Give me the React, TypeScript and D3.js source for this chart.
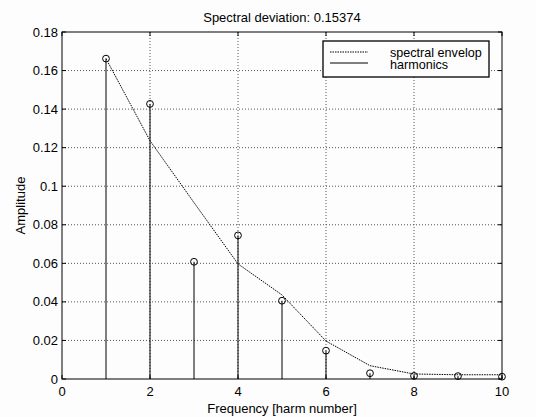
import React from "react";
import * as d3 from "d3";

// Harmonic numbers and measured amplitudes
const harmonics = [1, 2, 3, 4, 5, 6, 7, 8, 9, 10];
const amplitudes = [0.1662, 0.1427, 0.0608, 0.0745, 0.0406, 0.0147, 0.003, 0.0016, 0.0015, 0.0012];
// Spectral envelope sampled at each harmonic
const envelope = [0.1662, 0.1236, 0.0915, 0.0597, 0.0436, 0.0197, 0.0069, 0.0026, 0.0022, 0.0022];

const xTicks = [0, 2, 4, 6, 8, 10];
const yTicks = [0, 0.02, 0.04, 0.06, 0.08, 0.1, 0.12, 0.14, 0.16, 0.18];

const titleText = "Spectral deviation: 0.15374";
const xLabel = "Frequency [harm number]";
const yLabel = "Amplitude";
const legendLabels = ["spectral envelop", "harmonics"];

const W = 536;
const H = 417;
const left = 62;
const right = 502;
const top = 32;
const bottom = 379;

export default function App() {
  const x = d3.scaleLinear().domain([0, 10]).range([left, right]);
  const y = d3.scaleLinear().domain([0, 0.18]).range([bottom, top]);

  const envLine = d3
    .line<number>()
    .x((_, i) => x(harmonics[i]))
    .y((d) => y(d))(envelope) as string;

  const font = "'Liberation Sans', Arial, sans-serif";
  const bg = "#fdfdfd";
  const grid = { stroke: "#555", strokeWidth: 1, strokeDasharray: "1 2" };

  return (
    <svg
      width={W}
      height={H}
      style={{ position: "absolute", left: 0, top: 0, background: bg }}
      fontFamily={font}
    >
      <rect x={0} y={0} width={W} height={H} fill={bg} />
      {/* grid */}
      {xTicks
        .filter((t) => t > 0 && t < 10)
        .map((t) => (
          <line key={"gx" + t} x1={x(t)} x2={x(t)} y1={top} y2={bottom} {...grid} />
        ))}
      {yTicks
        .filter((t) => t > 0 && t < 0.18)
        .map((t) => (
          <line key={"gy" + t} x1={left} x2={right} y1={y(t)} y2={y(t)} {...grid} />
        ))}

      {/* ticks inside the box */}
      {xTicks.map((t) => (
        <g key={"tx" + t}>
          <line x1={x(t)} x2={x(t)} y1={bottom} y2={bottom - 4} stroke="#000" />
          <line x1={x(t)} x2={x(t)} y1={top} y2={top + 4} stroke="#000" />
          <text x={x(t)} y={bottom + 17} fontSize={13} textAnchor="middle" fill="#000">
            {String(t)}
          </text>
        </g>
      ))}
      {yTicks.map((t) => (
        <g key={"ty" + t}>
          <line x1={left} x2={left + 4} y1={y(t)} y2={y(t)} stroke="#000" />
          <line x1={right} x2={right - 4} y1={y(t)} y2={y(t)} stroke="#000" />
          <text x={left - 4} y={y(t) + 4.5} fontSize={13} textAnchor="end" fill="#000">
            {String(t)}
          </text>
        </g>
      ))}

      {/* envelope */}
      <path d={envLine} fill="none" stroke="#000" strokeWidth={1} strokeDasharray="1.5 1" />

      {/* stems */}
      {harmonics.map((h, i) => (
        <g key={"s" + h}>
          <line x1={x(h)} x2={x(h)} y1={y(0)} y2={y(amplitudes[i])} stroke="#000" strokeWidth={1} />
          <circle cx={x(h)} cy={y(amplitudes[i])} r={3.4} fill="none" stroke="#000" strokeWidth={1} />
        </g>
      ))}

      {/* axes box */}
      <rect x={left} y={top} width={right - left} height={bottom - top} fill="none" stroke="#000" strokeWidth={1} />

      {/* legend */}
      <rect x={323} y={41} width={166} height={36} fill={bg} stroke="#000" strokeWidth={1.3} />
      <line x1={330} x2={368} y1={52} y2={52} stroke="#000" strokeDasharray="1.5 1" />
      <line x1={330} x2={368} y1={63} y2={63} stroke="#000" />
      <text x={390} y={57} fontSize={12.6} fill="#000">
        {legendLabels[0]}
      </text>
      <text x={390} y={68.5} fontSize={12.6} fill="#000">
        {legendLabels[1]}
      </text>

      {/* labels */}
      <text x={(left + right) / 2} y={22} fontSize={13} textAnchor="middle" fill="#000">
        {titleText}
      </text>
      <text x={(left + right) / 2} y={413} fontSize={13} textAnchor="middle" fill="#000">
        {xLabel}
      </text>
      <text
        transform={`translate(24.5, ${(top + bottom) / 2}) rotate(-90)`}
        fontSize={13}
        textAnchor="middle"
        fill="#000"
      >
        {yLabel}
      </text>
    </svg>
  );
}
